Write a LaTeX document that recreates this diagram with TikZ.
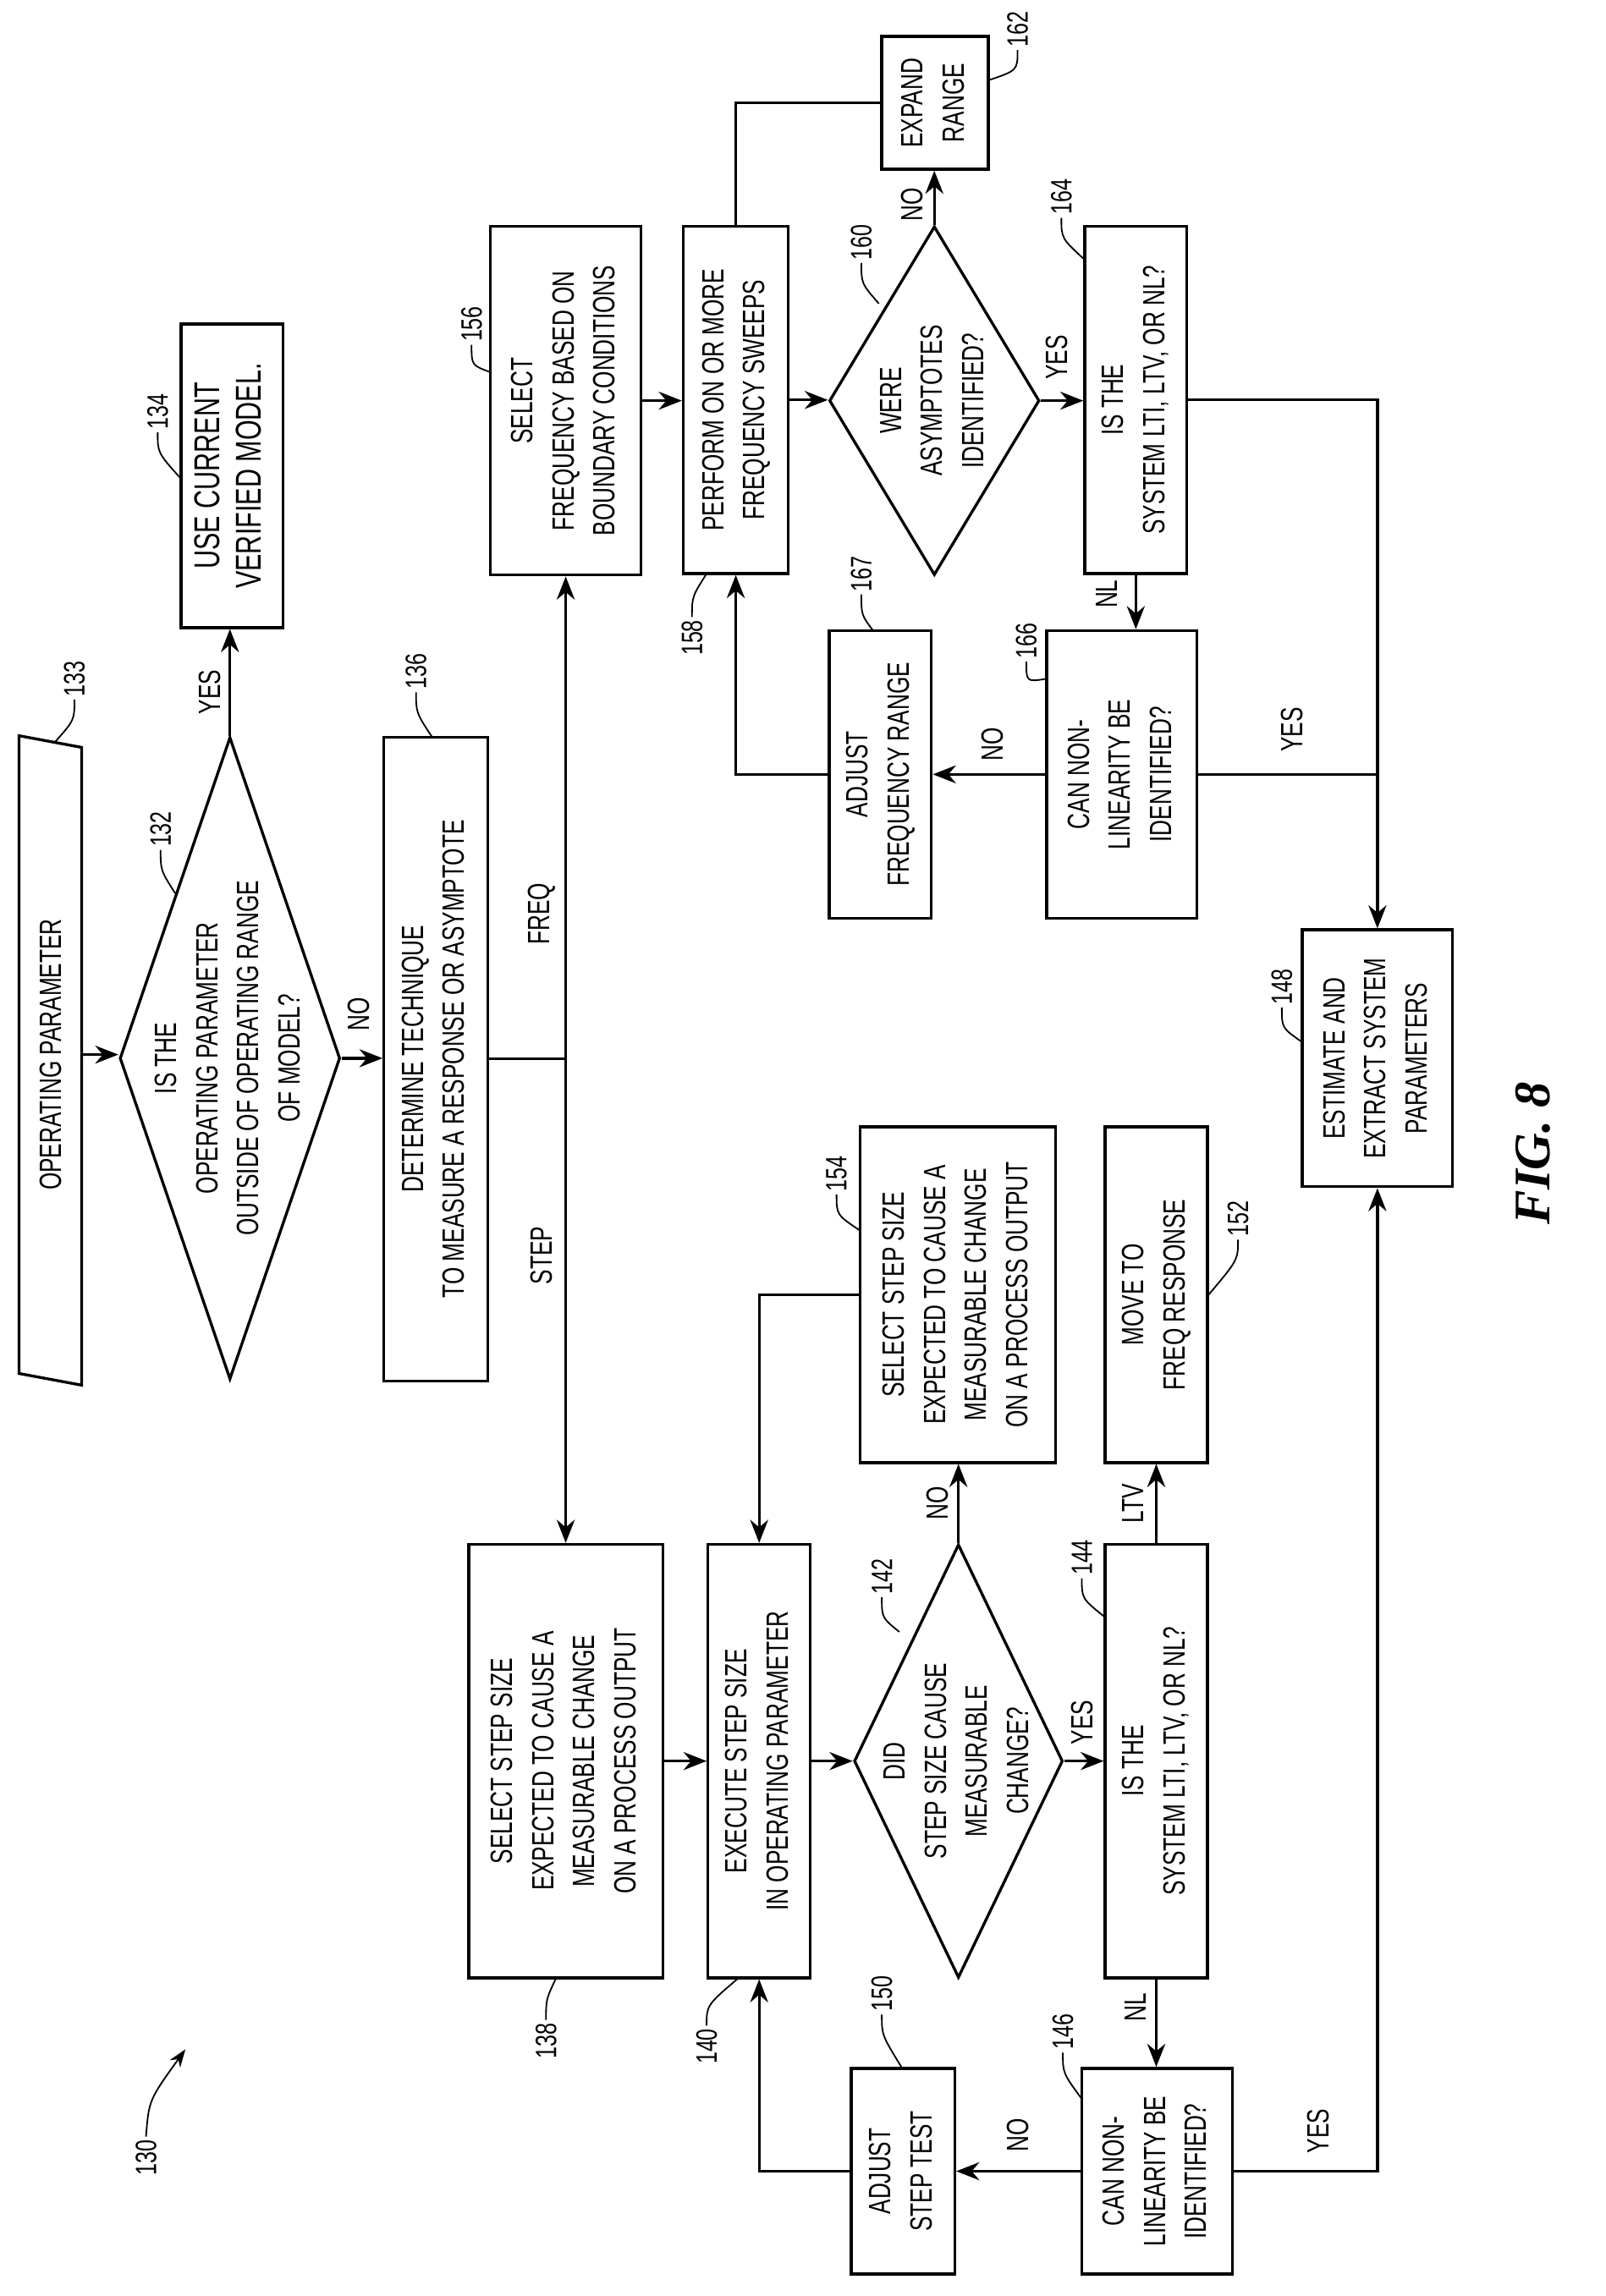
\documentclass[tikz,border=0pt]{standalone}
\usepackage{fontspec}
\setmainfont{Liberation Sans}[FakeStretch=0.72]
\newfontfamily\figfont{Liberation Serif}
\usetikzlibrary{shapes.geometric,arrows.meta,calc}
\def\px{0.02cm}
\tikzset{
  box/.style={draw,line width=1.1pt,inner sep=0pt,font=\fontsize{12}{16}\selectfont},
  dia/.style={draw,diamond,line width=1.1pt,inner sep=0pt},
  txt/.style={inner sep=0pt,font=\fontsize{12}{16}\selectfont},
  lbl/.style={rotate=90,inner sep=1pt,font=\fontsize{12}{14}\selectfont},
  num/.style={rotate=90,inner sep=1pt,font=\fontsize{11.5}{14}\selectfont},
  arr/.style={line width=1.1pt,-{Stealth[length=9pt,width=7pt]}},
  ln/.style={line width=1.1pt},
  ld/.style={line width=0.6pt},
}
\newcommand\bx[6]{\node[box,minimum width={(#4-#2)*\px},minimum height={(#5-#3)*\px}] (#1) at ({(#2+#4)/2},{(#3+#5)/2}) {\rotatebox{90}{\begin{tabular}{@{}c@{}}#6\end{tabular}}};}
\newcommand\dm[6]{\node[dia,minimum width={(#4-#2)*\px},minimum height={(#5-#3)*\px}] (#1) at ({(#2+#4)/2},{(#3+#5)/2}) {};
  \node[txt] (#1t) at (#1.center) {\rotatebox{90}{\begin{tabular}{@{}c@{}}#6\end{tabular}}};}
\begin{document}
\begin{tikzpicture}[x=0.02cm,y=-0.02cm]
\useasboundingbox (0,0) rectangle (1100,1573);
% left column
\node[box,draw=none,minimum width={41*\px},minimum height={435*\px}] (p133) at (34.5,722.5) {\rotatebox{90}{OPERATING PARAMETER}};
\draw[ln] (p133.north west) -- ($(p133.north east)+(0,8)$) -- ($(p133.south east)+(0,8)$) -- (p133.south west) -- cycle;
\dm{d132}{82}{505}{233}{945}{IS THE\\OPERATING PARAMETER\\OUTSIDE OF OPERATING RANGE\\OF MODEL?}
\bx{b134}{124}{222}{194}{430}{\fontsize{14}{19}\selectfont USE CURRENT\\\fontsize{14}{19}\selectfont VERIFIED MODEL.}
\bx{b136}{263}{505}{334}{946}{DETERMINE TECHNIQUE\\TO MEASURE A RESPONSE OR ASYMPTOTE}
% frequency branch
\bx{b156}{336}{155}{439}{394}{SELECT\\FREQUENCY BASED ON\\BOUNDARY CONDITIONS}
\bx{b158}{468}{155}{540}{393}{PERFORM ON OR MORE\\FREQUENCY SWEEPS}
\dm{d160}{568}{155}{712}{394}{WERE\\ASYMPTOTES\\IDENTIFIED?}
\bx{b162}{604}{25}{677}{116}{EXPAND\\RANGE}
\bx{b164}{743}{155}{813}{393}{IS THE\\SYSTEM LTI, LTV, OR NL?}
\bx{b166}{717}{432}{820}{629}{CAN NON-\\LINEARITY BE\\IDENTIFIED?}
\bx{b167}{568}{432}{638}{629}{ADJUST\\FREQUENCY RANGE}
\bx{b148}{892}{637}{995}{813}{ESTIMATE AND\\EXTRACT SYSTEM\\PARAMETERS}
% step branch
\bx{b138}{321}{1058}{454}{1355}{SELECT STEP SIZE\\EXPECTED TO CAUSE A\\MEASURABLE CHANGE\\ON A PROCESS OUTPUT}
\bx{b140}{485}{1058}{555}{1355}{EXECUTE STEP SIZE\\IN OPERATING PARAMETER}
\dm{d142}{585}{1058}{728}{1355}{DID\\STEP SIZE CAUSE\\MEASURABLE\\CHANGE?}
\bx{b144}{757}{1058}{827}{1355}{IS THE\\SYSTEM LTI, LTV, OR NL?}
\bx{b154}{589}{772}{723}{1002}{SELECT STEP SIZE\\EXPECTED TO CAUSE A\\MEASURABLE CHANGE\\ON A PROCESS OUTPUT}
\bx{b152}{757}{772}{827}{1002}{MOVE TO\\FREQ RESPONSE}
\bx{b146}{741}{1417}{844}{1558}{CAN NON-\\LINEARITY BE\\IDENTIFIED?}
\bx{b150}{583}{1417}{654}{1558}{ADJUST\\STEP TEST}
% connectors
\draw[arr] (p133.east) -- (p133.east -| d132.west);
\draw[arr] (d132.north) -- (d132.north |- b134.south);
\draw[arr] (d132.east) -- (d132.east -| b136.west);
\coordinate (j) at (b156.south |- b136.east);
\draw[ln] (b136.east) -- (j);
\draw[arr] (j) -- (b156.south);
\draw[arr] (j) -- (j |- b138.north);
\draw[arr] (b156.east) -- (b156.east -| b158.west);
\draw[arr] (b158.east) -- (b158.east -| d160.west);
\draw[arr] (d160.north) -- (d160.north |- b162.south);
\draw[ln] (b158.north) |- (b162.west);
\draw[arr] (d160.east) -- (d160.east -| b164.west);
\draw[arr] (b164.east) -| (b148.north);
\draw[arr] (b164.south) -- (b164.south |- b166.north);
\draw[ln] (b166.east) -- (b166.east -| b148.north);
\draw[arr] (b166.west) -- (b166.west -| b167.east);
\draw[arr] (b167.west) -| (b158.south);
\draw[arr] (b138.east) -- (b138.east -| b140.west);
\draw[arr] (b140.east) -- (b140.east -| d142.west);
\draw[arr] (d142.east) -- (d142.east -| b144.west);
\draw[arr] (d142.north) -- (d142.north |- b154.south);
\draw[arr] (b154.west) -| (b140.north);
\draw[arr] (b144.north) -- (b144.north |- b152.south);
\draw[arr] (b144.south) -- (b144.south |- b146.north);
\draw[arr] (b146.west) -- (b146.west -| b150.east);
\draw[arr] (b150.west) -| (b140.south);
\draw[arr] (b146.east) -| (b148.south);
% edge labels
\node[lbl] (y1) at (144,474) {YES};
\node[lbl] (n1) at (246,695) {NO};
\node[lbl] (fq) at (371,626) {FREQ};
\node[lbl] (st) at (371,860) {STEP};
\node[lbl] (n2) at (625,140) {NO};
\node[lbl] (y2) at (724,245) {YES};
\node[lbl] (nl1) at (758,407) {NL};
\node[lbl] (n3) at (680,510) {NO};
\node[lbl] (y3) at (885,500) {YES};
\node[lbl] (n4) at (642,1030) {NO};
\node[lbl] (y4) at (741,1180) {YES};
\node[lbl] (ltv) at (776,1030) {LTV};
\node[lbl] (nl2) at (778,1375) {NL};
\node[lbl] (n5) at (697,1463) {NO};
\node[lbl] (y5) at (903,1460) {YES};
% reference numerals
\node[num] (l133) at (51,465) {133};
\node[num] (l132) at (110,568) {132};
\node[num] (l134) at (108,282) {134};
\node[num] (l136) at (285,460) {136};
\node[num] (l156) at (323,222) {156};
\node[num] (l158) at (474,437) {158};
\node[num] (l160) at (590,166) {160};
\node[num] (l162) at (697,20) {162};
\node[num] (l164) at (727,135) {164};
\node[num] (l166) at (703,439) {166};
\node[num] (l167) at (590,393) {167};
\node[num] (l148) at (878,676) {148};
\node[num] (l138) at (374,1398) {138};
\node[num] (l140) at (484,1402) {140};
\node[num] (l142) at (604,1080) {142};
\node[num] (l144) at (741,1067) {144};
\node[num] (l154) at (573,804) {154};
\node[num] (l152) at (848,835) {152};
\node[num] (l146) at (728,1392) {146};
\node[num] (l150) at (604,1366) {150};
\node[num] (l130) at (100,1478) {130};
\coordinate (t133) at (38,508);
\coordinate (t132) at (120,612);
\coordinate (t134) at (124,328);
\coordinate (t136) at (296,505);
\coordinate (t156) at (336,255);
\coordinate (t158) at (484,393);
\coordinate (t160) at (602,208);
\coordinate (t162) at (677,55);
\coordinate (t164) at (743,178);
\coordinate (t166) at (717,465);
\coordinate (t167) at (598,432);
\coordinate (t148) at (892,714);
\coordinate (t138) at (381,1355);
\coordinate (t140) at (506,1355);
\coordinate (t142) at (616,1118);
\coordinate (t144) at (757,1108);
\coordinate (t154) at (589,843);
\coordinate (t152) at (827,888);
\coordinate (t146) at (741,1438);
\coordinate (t150) at (618,1417);
\coordinate (t130) at (127,1404);
\foreach \n in {133,132,134,136,156,160,164,166,167,148,142,144,154,146,150}{
  \draw[ld] (l\n.west) .. controls ($(l\n.west)+(0,14)$) .. (t\n);
}
\draw[ld] (l162.west) .. controls ($(l162.west)+(0,14)$) .. (t162);
\draw[ld] (l152.west) .. controls ($(l152.west)+(0,14)$) .. (t152);
\draw[ld] (l158.east) .. controls ($(l158.east)+(0,-14)$) .. (t158);
\draw[ld] (l138.east) .. controls ($(l138.east)+(0,-14)$) .. (t138);
\draw[ld] (l140.east) .. controls ($(l140.east)+(0,-14)$) .. (t140);
\draw[ld,-{Stealth[length=7pt,width=5pt]}] (l130.east) .. controls ($(l130.east)+(2,-25)$) .. (t130);
\node[rotate=90,font=\figfont\bfseries\itshape\fontsize{20}{24}\selectfont] (fig) at (1050,790) {FIG. 8};
\end{tikzpicture}
\end{document}
